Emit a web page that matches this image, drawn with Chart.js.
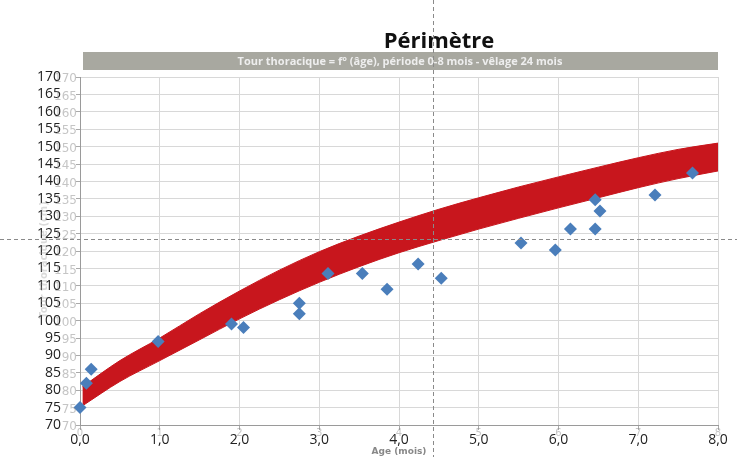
<!DOCTYPE html>
<html>
<head>
<meta charset="utf-8">
<script src="https://cdn.jsdelivr.net/npm/chart.js@4"></script>
<style>
  html, body { margin: 0; padding: 0; background: #fff; }
  #wrap { width: 737px; height: 457px; }
</style>
</head>
<body>
<div id="wrap"><canvas id="perimetreChart" width="737" height="457"></canvas></div>
<script>
// Mesures individuelles (âge en mois, tour thoracique en cm)
const ageMois = [0.0, 0.08, 0.14, 0.98, 1.9, 2.05, 2.75, 2.75, 3.11, 3.54, 3.85, 4.24, 4.53, 5.53, 5.96, 6.15, 6.46, 6.52, 6.46, 7.21, 7.68];
const tourThoracique = [75, 82, 86, 94, 99, 98, 105, 102, 113.5, 113.5, 109, 116.3, 112.2, 122.3, 120.3, 126.3, 134.7, 131.5, 126.3, 136.1, 142.4];

// Bande objectif (vêlage 24 mois)
const bandeAges = [0.03, 0.5, 1, 1.5, 2, 2.5, 3, 3.5, 4, 4.5, 5, 5.5, 6, 6.5, 7, 7.5, 8];
const bandeHaut = [81, 88.5, 95, 102, 108.5, 114.5, 119.8, 124.3, 128.3, 132, 135.3, 138.4, 141.3, 144.1, 146.8, 149.2, 151];
const bandeBas  = [75.5, 82.5, 88.5, 94.5, 100.5, 106, 111, 115.5, 119.5, 123, 126.3, 129.4, 132.4, 135.3, 138.2, 140.8, 143];

// Graduations
const xTickLabels = ["0,0", "1,0", "2,0", "3,0", "4,0", "5,0", "6,0", "7,0", "8,0"];
const xGhostLabels = ["0", "1", "2", "3", "4", "5", "6", "7", "8"];
const yMin = 70, yMax = 170, yStep = 5;

// Réticule (curseur en pointillés)
const crossX = 4.43, crossY = 123.4;

const decor = {
  id: "decor",
  beforeDraw(chart) {
    const c = chart.ctx;
    c.save();
    c.fillStyle = "#fff";
    c.fillRect(0, 0, chart.width, chart.height);
    c.restore();
  },
  afterDraw(chart) {
    const c = chart.ctx;
    const area = chart.chartArea;
    const sx = chart.scales.x, sy = chart.scales.y;
    c.save();

    // titre
    c.fillStyle = "#111";
    c.font = "bold 22px 'Open Sans'";
    c.textAlign = "center";
    c.textBaseline = "alphabetic";
    c.fillText("Périmètre", 439, 48);

    // bandeau gris
    c.fillStyle = "#a8a8a0";
    c.fillRect(area.left + 3, 52, area.right - area.left - 3, 18);
    c.fillStyle = "#eeeeee";
    c.font = "bold 11px 'Open Sans'";
    c.textBaseline = "middle";
    c.fillText("Tour thoracique = f° (âge), période 0-8 mois - vêlage 24 mois", 400, 61.5);

    // étiquettes fantômes (axe Y)
    c.fillStyle = "rgba(140,140,140,0.5)";
    c.font = "12px 'DejaVu Sans'";
    c.textAlign = "right";
    for (let v = yMin; v <= yMax; v += yStep) {
      c.fillText(String(v), area.left - 3, sy.getPixelForValue(v) + 2);
    }
    // étiquettes fantômes (axe X)
    c.font = "10px 'DejaVu Sans'";
    c.textAlign = "center";
    xGhostLabels.forEach((t, i) => {
      c.fillText(t, sx.getPixelForValue(i), area.bottom + 8);
    });
    // titre fantôme axe Y
    c.translate(44, 260);
    c.rotate(-Math.PI / 2);
    c.fillStyle = "rgba(150,150,150,0.35)";
    c.font = "bold 10px 'DejaVu Sans'";
    c.fillText("Tour thoracique (cm)", 0, 0);
    c.setTransform(chart.currentDevicePixelRatio, 0, 0, chart.currentDevicePixelRatio, 0, 0);

    // réticule
    c.strokeStyle = "#8a8a8a";
    c.lineWidth = 1;
    c.setLineDash([4, 3]);
    const px = Math.round(sx.getPixelForValue(crossX)) + 0.5;
    const py = Math.round(sy.getPixelForValue(crossY)) + 0.5;
    c.beginPath();
    c.moveTo(px, 0); c.lineTo(px, chart.height);
    c.moveTo(0, py); c.lineTo(chart.width, py);
    c.stroke();
    c.restore();
  }
};

const ctx = document.getElementById("perimetreChart").getContext("2d");
new Chart(ctx, {
  type: "scatter",
  data: {
    datasets: [
      {
        label: "Mesures",
        data: ageMois.map((a, i) => ({ x: a, y: tourThoracique[i] })),
        pointStyle: "rectRot",
        pointRadius: 6.5,
        pointHoverRadius: 6.5,
        backgroundColor: "#4a7ebb",
        borderColor: "#4a7ebb",
        borderWidth: 0,
        clip: false,
        order: 0
      },
      {
        label: "Haut",
        type: "line",
        data: bandeAges.map((a, i) => ({ x: a, y: bandeHaut[i] })),
        borderColor: "#c8161d",
        borderWidth: 1,
        pointRadius: 0,
        cubicInterpolationMode: "monotone",
        fill: false,
        order: 2
      },
      {
        label: "Bas",
        type: "line",
        data: bandeAges.map((a, i) => ({ x: a, y: bandeBas[i] })),
        borderColor: "#c8161d",
        borderWidth: 1,
        backgroundColor: "#c8161d",
        pointRadius: 0,
        cubicInterpolationMode: "monotone",
        fill: "-1",
        order: 1
      }
    ]
  },
  options: {
    responsive: false,
    animation: false,
    layout: { padding: { left: 0, right: 19, top: 77, bottom: 0 } },
    plugins: {
      legend: { display: false },
      tooltip: { enabled: false },
      title: { display: false }
    },
    scales: {
      x: {
        type: "linear",
        min: 0,
        max: 8,
        afterFit: s => { s.height = 32; },
        ticks: {
          stepSize: 1,
          padding: 2,
          color: "#222",
          font: { family: "'Open Sans'", size: 14 },
          callback: (v) => xTickLabels[v] !== undefined ? xTickLabels[v] : ""
        },
        grid: { color: "#d8d8d8", tickLength: 5, tickColor: "#aaa" },
        border: { color: "#9a9a9a" },
        title: {
          display: true,
          text: "Age (mois)",
          color: "#888",
          font: { family: "'DejaVu Sans'", size: 9, weight: "bold" },
          padding: { top: 0, bottom: 0 }
        }
      },
      y: {
        min: yMin,
        max: yMax,
        afterFit: s => { s.width = 80; },
        ticks: {
          stepSize: yStep,
          autoSkip: false,
          padding: 15,
          color: "#222",
          font: { family: "'Open Sans'", size: 14 }
        },
        grid: { color: "#d8d8d8", tickLength: 4, tickColor: "#aaa" },
        border: { color: "#9a9a9a" }
      }
    }
  },
  plugins: [decor]
});
</script>
</body>
</html>
